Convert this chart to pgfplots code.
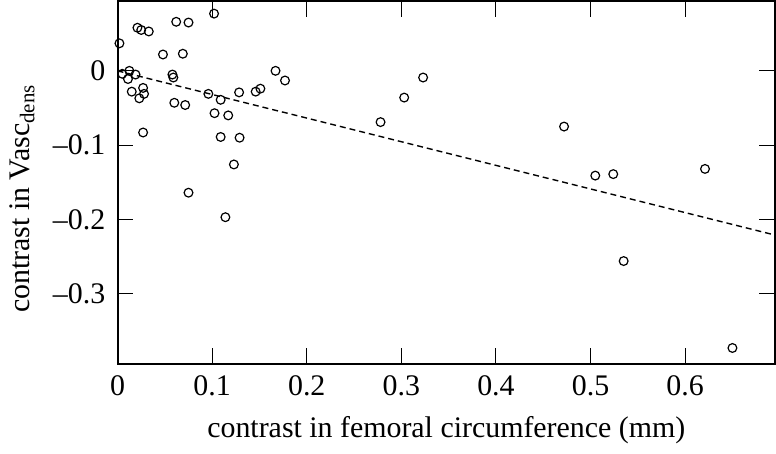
\documentclass[border=0pt]{standalone}
\usepackage{fontspec}
\setmainfont{Liberation Serif}
\usepackage{pgfplots}
\pgfplotsset{compat=1.18}
\begin{document}
\fontsize{15}{18}\selectfont
\begin{tikzpicture}
\begin{axis}[
    width=330pt,
    height=182pt,
    scale only axis,
    xmin=0, xmax=0.695,
    ymin=-0.394, ymax=0.094,
    xtick={0,0.1,0.2,0.3,0.4,0.5,0.6},
    xticklabels={0,0.1,0.2,0.3,0.4,0.5,0.6},
    ytick={-0.3,-0.2,-0.1,0},
    yticklabels={--0.3,--0.2,--0.1,0},
    tick align=inside,
    major tick length=8pt,
    axis line style={line width=1pt},
    every tick/.style={black, line width=0.5pt},
    yticklabel style={xshift=-1pt},
    xticklabel style={yshift=-1pt},
    xlabel={contrast in femoral circumference (mm)},
    ylabel={contrast in Vasc\textsubscript{dens}},
    xlabel style={yshift=0pt},
    ylabel style={at={(ticklabel cs:0.455)}, yshift=-1pt},
]
% fitted line
\addplot[black, line width=0.7pt, dash pattern=on 3pt off 2pt] coordinates {(0,0) (0.695,-0.221)};
% observations
\addplot[only marks, mark=o, mark size=2.2pt, mark options={line width=0.6pt, black}] coordinates {
(0.002,0.037) (0.021,0.058) (0.025,0.055) (0.033,0.053) (0.062,0.066)
(0.075,0.065) (0.102,0.077) (0.048,0.022) (0.069,0.023) (0.005,-0.004)
(0.0125,0.0) (0.011,-0.011) (0.019,-0.005) (0.058,-0.005) (0.059,-0.009)
(0.015,-0.028) (0.027,-0.023) (0.028,-0.031) (0.023,-0.037) (0.060,-0.043)
(0.0715,-0.046) (0.096,-0.031) (0.109,-0.039) (0.1285,-0.029) (0.146,-0.028)
(0.151,-0.024) (0.167,0.0) (0.177,-0.013) (0.1025,-0.057) (0.117,-0.060)
(0.027,-0.083) (0.109,-0.089) (0.129,-0.090) (0.123,-0.126) (0.075,-0.164)
(0.114,-0.197) (0.278,-0.069) (0.303,-0.036) (0.323,-0.009) (0.472,-0.075)
(0.505,-0.141) (0.524,-0.139) (0.535,-0.256) (0.621,-0.132) (0.650,-0.373)
};
\end{axis}
\end{tikzpicture}
\end{document}
